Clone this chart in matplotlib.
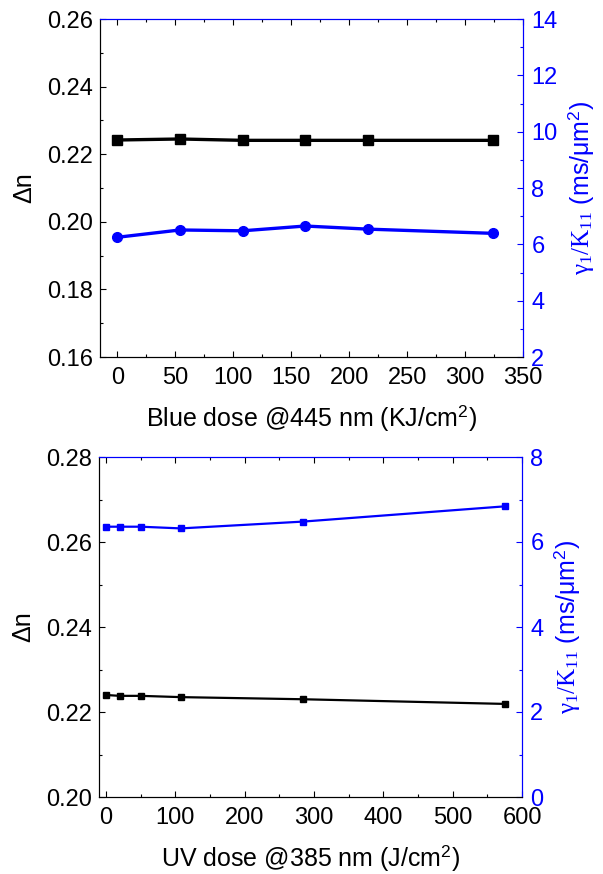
import matplotlib
matplotlib.use("Agg")
import matplotlib.pyplot as plt
from matplotlib.ticker import MultipleLocator

plt.rcParams['font.family'] = ['Liberation Sans', 'DejaVu Sans']
plt.rcParams['mathtext.fontset'] = 'custom'
plt.rcParams['mathtext.rm'] = 'Liberation Serif'
plt.rcParams['mathtext.it'] = 'Liberation Serif:italic'
plt.rcParams['mathtext.sf'] = 'Liberation Sans'

# Top panel data
blue_dose = [0, 54, 108, 162, 216, 324]
dn_blue = [0.2242, 0.2245, 0.2241, 0.2241, 0.2241, 0.2241]
gk_blue = [6.25, 6.51, 6.48, 6.65, 6.54, 6.39]

# Bottom panel data
uv_dose = [0, 20, 50, 108, 284, 576]
dn_uv = [0.2240, 0.2238, 0.2238, 0.2235, 0.2230, 0.2219]
gk_uv = [6.36, 6.36, 6.36, 6.32, 6.48, 6.84]

BLUE = '#0000ff'
FS = 17
LFS = 18

fig = plt.figure(figsize=(6.03, 8.74), dpi=100)

def style(ax, ax2):
    for a in (ax, ax2):
        a.spines['top'].set_color(BLUE)
        a.spines['right'].set_color(BLUE)
        a.spines['left'].set_color('black')
        a.spines['bottom'].set_color('black')
    ax.tick_params(axis='both', which='both', direction='in', labelsize=FS, pad=5)
    ax.tick_params(axis='x', pad=7)
    ax.tick_params(which='major', length=4, width=0.8)
    ax.tick_params(which='minor', length=2, width=0.8)
    ax.tick_params(axis='x', top=True, which='both', color='black')
    ax2.tick_params(axis='y', which='both', direction='in', colors=BLUE, labelsize=FS, pad=6)
    ax2.tick_params(which='major', length=4, width=0.8)
    ax2.tick_params(which='minor', length=2, width=0.8)

ylab2 = r'$\mathrm{\gamma_1/K_{11}}$ (ms/μm$^\mathsf{2}$)'

# Top
ax = fig.add_axes([100/603, 1-357/874, 423/603, 338/874])
ax2 = ax.twinx()
ax.plot(blue_dose, dn_blue, color='black', marker='s', ms=7, lw=2.4)
ax2.plot(blue_dose, gk_blue, color=BLUE, marker='o', ms=7, lw=2.4)
ax.set_xlim(-15, 350)
ax.set_ylim(0.16, 0.26)
ax2.set_ylim(2, 14)
ax.xaxis.set_major_locator(MultipleLocator(50))
ax.xaxis.set_minor_locator(MultipleLocator(25))
ax.yaxis.set_major_locator(MultipleLocator(0.02))
ax.yaxis.set_minor_locator(MultipleLocator(0.01))
ax2.yaxis.set_major_locator(MultipleLocator(2))
ax2.yaxis.set_minor_locator(MultipleLocator(1))
ax.set_yticklabels([f'{v:.2f}' for v in ax.get_yticks()])
style(ax, ax2)
ax.set_xlabel('Blue dose @445 nm (KJ/cm$^\\mathsf{2}$)', fontsize=LFS, labelpad=10)
ax.set_ylabel('Δn', fontsize=LFS, labelpad=8)
ax2.set_ylabel(ylab2, fontsize=LFS, color=BLUE, labelpad=6)

# Bottom
bx = fig.add_axes([99/603, 1-797/874, 423/603, 340/874])
bx2 = bx.twinx()
bx.plot(uv_dose, dn_uv, color='black', marker='s', ms=5, lw=1.6)
bx2.plot(uv_dose, gk_uv, color=BLUE, marker='s', ms=5, lw=1.6)
bx.set_xlim(-10, 600)
bx.set_ylim(0.20, 0.28)
bx2.set_ylim(0, 8)
bx.xaxis.set_major_locator(MultipleLocator(100))
bx.xaxis.set_minor_locator(MultipleLocator(50))
bx.yaxis.set_major_locator(MultipleLocator(0.02))
bx.yaxis.set_minor_locator(MultipleLocator(0.01))
bx2.yaxis.set_major_locator(MultipleLocator(2))
bx2.yaxis.set_minor_locator(MultipleLocator(1))
bx.set_yticklabels([f'{v:.2f}' for v in bx.get_yticks()])
style(bx, bx2)
bx.set_xlabel('UV dose @385 nm (J/cm$^\\mathsf{2}$)', fontsize=LFS, labelpad=10)
bx.set_ylabel('Δn', fontsize=LFS, labelpad=8)
bx2.set_ylabel(ylab2, fontsize=LFS, color=BLUE, labelpad=6)

fig.savefig('out.png', dpi=100)
